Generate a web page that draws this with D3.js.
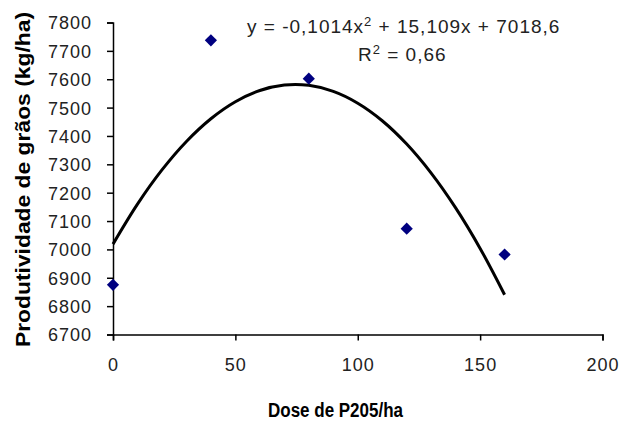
<!DOCTYPE html>
<html><head><meta charset="utf-8">
<script src="https://cdn.jsdelivr.net/npm/d3@7"></script>
<style>body{margin:0;background:#fff;}svg{display:block;font-family:"Liberation Sans",Arial,sans-serif;}</style>
</head><body>
<script>
const doses = [0, 40, 80, 120, 160];
const yields = [6875, 7737, 7602, 7073, 6982];
const trendX = [0, 10, 20, 30, 40, 50, 60, 70, 80, 90, 100, 110, 120, 130, 140, 150, 160];
const trendY = [7018.6, 7159.6, 7280.2, 7380.6, 7460.7, 7520.6, 7560.1, 7579.4, 7578.4, 7557.1, 7515.5, 7453.7, 7371.5, 7269.1, 7146.4, 7003.5, 6840.2];
const xTicks = [0, 50, 100, 150, 200];
const yTicks = [6700, 6800, 6900, 7000, 7100, 7200, 7300, 7400, 7500, 7600, 7700, 7800];

const W = 621, H = 421;
const svg = d3.select("body").append("svg").attr("width", W).attr("height", H);
const x = d3.scaleLinear().domain([0, 200]).range([113, 602.5]);
const y = d3.scaleLinear().domain([6700, 7800]).range([334.5, 22.5]);

const xAxis = svg.append("g").attr("transform", "translate(0,334.5)")
  .call(d3.axisBottom(x).tickValues(xTicks).tickSize(6).tickPadding(18).tickFormat(d3.format("d")));
const yAxis = svg.append("g").attr("transform", "translate(113,0)")
  .call(d3.axisLeft(y).tickValues(yTicks).tickSize(6).tickPadding(15).tickFormat(d3.format("d")));
[xAxis, yAxis].forEach(g => {
  g.select(".domain").attr("stroke", "#000").attr("stroke-width", 1.5);
  g.selectAll(".tick line").attr("stroke", "#000").attr("stroke-width", 1.5);
  g.selectAll("text").attr("font-size", 18).attr("fill", "#222")
    .attr("letter-spacing", 1).attr("font-family", "Liberation Sans, Arial, sans-serif");
});
yAxis.selectAll("text").attr("dy", "0.36em");

const line = d3.line().x((d, i) => x(trendX[i])).y(d => y(d)).curve(d3.curveCatmullRom);
svg.append("path").datum(trendY).attr("d", line).attr("fill", "none").attr("stroke", "#000").attr("stroke-width", 3);

const diamond = d3.symbol().type(d3.symbolDiamond2).size(95);
svg.selectAll(".pt").data(doses).enter().append("path")
  .attr("transform", (d, i) => `translate(${x(d)},${y(yields[i])})`)
  .attr("d", diamond).attr("fill", "#000080");

const eq = svg.append("text").attr("x", 247).attr("y", 33).attr("font-size", 19).attr("fill", "#222").attr("letter-spacing", 1);
eq.append("tspan").text("y = -0,1014x");
eq.append("tspan").attr("dy", -7).attr("font-size", 13).text("2");
eq.append("tspan").attr("dy", 7).text(" + 15,109x + 7018,6");
const r2 = svg.append("text").attr("x", 358).attr("y", 61).attr("font-size", 19).attr("fill", "#222").attr("letter-spacing", 1);
r2.append("tspan").text("R");
r2.append("tspan").attr("dy", -7).attr("font-size", 13).text("2");
r2.append("tspan").attr("dy", 7).text(" = 0,66");

svg.append("text").attr("x", 268).attr("y", 417)
  .attr("font-size", 20).attr("font-weight", "bold").attr("textLength", 135).attr("lengthAdjust", "spacingAndGlyphs")
  .text("Dose de P205/ha");
svg.append("text").attr("transform", "translate(30,347) rotate(-90)")
  .attr("font-size", 21).attr("font-weight", "bold").attr("textLength", 335).attr("lengthAdjust", "spacingAndGlyphs")
  .text("Produtividade de grãos (kg/ha)");
</script>
</body></html>
